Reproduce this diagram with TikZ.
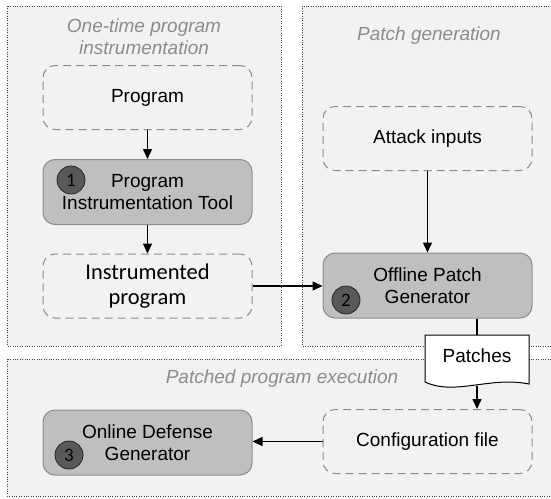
\documentclass[tikz,border=0pt]{standalone}
\usepackage{fontspec}
\setmainfont{Liberation Sans}
\newfontfamily\calib{Carlito}
\usetikzlibrary{arrows.meta}
\definecolor{regionbg}{HTML}{F2F2F2}
\definecolor{dotcol}{HTML}{404040}
\definecolor{dashcol}{HTML}{8C8C8C}
\definecolor{procfill}{HTML}{BFBFBF}
\definecolor{procdraw}{HTML}{8C8C8C}
\definecolor{circfill}{HTML}{595959}
\definecolor{circdraw}{HTML}{262626}
\definecolor{labelcol}{HTML}{8C8C8C}
\begin{document}
\begin{tikzpicture}[x=1pt,y=-1pt,
  region/.style={fill=regionbg, draw=dotcol, line width=0.8pt, dash pattern=on 0.8pt off 1.6pt},
  databox/.style={draw=dashcol, line width=1pt, dash pattern=on 8pt off 5pt, rounded corners=12pt,
    minimum width=209pt, minimum height=64pt, inner sep=0pt, align=center,
    font=\fontsize{19}{22}\selectfont},
  procbox/.style={draw=procdraw, fill=procfill, line width=1pt, rounded corners=12pt,
    minimum width=209pt, minimum height=65pt, inner sep=0pt, align=center,
    font=\fontsize{19}{22}\selectfont},
  numcirc/.style={circle, fill=circfill, draw=circdraw, line width=0.8pt, minimum size=28pt,
    inner sep=0pt, font=\calib\fontsize{19}{19}\selectfont},
  seclabel/.style={text=labelcol, align=center, inner sep=0pt, font=\itshape\fontsize{19}{22}\selectfont},
  flow/.style={-{Triangle[length=10pt,width=9pt]}, line width=1.5pt},
  link/.style={line width=1.5pt}
]
\useasboundingbox (0,0) rectangle (551,498);
\clip (0,0) rectangle (551,498);
% regions
\draw[region] (7,6) rectangle (281,346);
\draw[region] (302,6) rectangle (580,346);
\draw[region] (7,359) rectangle (580,496);
% section labels
\node[seclabel] (lab1) at (144,37) {One-time program\\instrumentation};
\node[seclabel, anchor=base] (lab2) at (429,40) {Patch generation};
\node[seclabel, anchor=base] (lab3) at (282,383) {Patched program execution};
% boxes
\node[databox] (prog) at (147.5,97.5) {Program};
\node[procbox] (pit) at (147.5,192) {Program\\Instrumentation Tool};
\node[databox, font=\calib\fontsize{22.5}{25}\selectfont] (instr) at (147.5,286) {Instrumented\\program};
\node[databox] (attack) at (427.5,138.5) {Attack inputs};
\node[procbox] (opg) at (427.5,285.5) {Offline Patch\\Generator};
\node[databox] (config) at (427.5,441.5) {Configuration file};
\node[procbox] (odg) at (147.5,442.5) {Online Defense\\Generator};
% number circles
\node[numcirc] (n1) at (71,180) {1};
\node[numcirc] (n2) at (346,300) {2};
\node[numcirc] (n3) at (69,455) {3};
% patches document
\draw[fill=white, draw=black, line width=1pt] (425,335) -- (529,335) -- (529,384)
  .. controls (490,376) and (455,396) .. (425,382) -- cycle;
\node[inner sep=0pt, minimum width=104pt, minimum height=42pt, font=\fontsize{19}{22}\selectfont] (patches) at (477,356) {Patches};
\coordinate (pwave) at (477,386);
% connectors
\draw[flow] (prog) -- (pit);
\draw[flow] (pit) -- (instr);
\draw[flow] (attack) -- (opg);
\draw[flow] (instr.east) -- (opg.west |- instr.east);
\draw[link] (opg.south -| patches.north) -- (patches.north);
\draw[flow] (pwave) -- (config.north -| pwave);
\draw[flow] (config.west) -- (odg.east |- config.west);
\end{tikzpicture}
\end{document}
